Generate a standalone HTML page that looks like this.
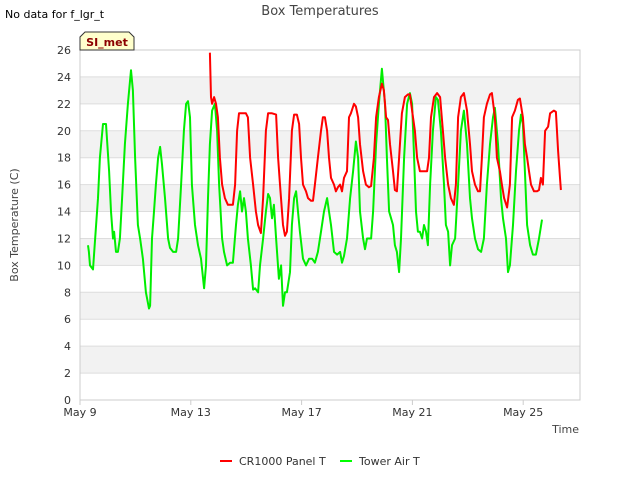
<!DOCTYPE html>
<html><head><meta charset="utf-8"><style>
body{margin:0;background:#fff;font-family:"Liberation Sans","DejaVu Sans",sans-serif;}
</style></head><body>
<svg width="640" height="480" xmlns="http://www.w3.org/2000/svg" style="font-family:'DejaVu Sans','Liberation Sans',sans-serif">
<g id="bands"></g><g id="grid"></g>
<rect x="80" y="50" width="500" height="350" fill="none" stroke="#ccc"/>
<g id="yticks"></g><g id="xticks"></g>
<g id="series"></g>
<text x="320" y="15" text-anchor="middle" font-size="13" fill="#444">Box Temperatures</text>
<text x="5" y="18" font-size="11" fill="#000">No data for f_lgr_t</text>
<g><path d="M80,50 L80,37 L85,32 L129,32 L134,37 L134,50 Z" fill="#ffffcc" stroke="#333"/>
<text x="107" y="46" text-anchor="middle" font-size="11" font-weight="bold" fill="#8b0000">SI_met</text></g>
<text x="18" y="225" transform="rotate(-90 18 225)" text-anchor="middle" font-size="11" fill="#444">Box Temperature (C)</text>
<text x="579" y="433" text-anchor="end" font-size="11" fill="#444">Time</text>
<g>
<g><line x1="220" y1="461" x2="232" y2="461" stroke="#f00" stroke-width="2"/><text x="239" y="465" font-size="11" fill="#333">CR1000 Panel T</text></g>
<g><line x1="340" y1="461" x2="352" y2="461" stroke="#0f0" stroke-width="2"/><text x="359" y="465" font-size="11" fill="#333">Tower Air T</text></g>
</g>
</svg>
<script>
const yTicks=[0,2,4,6,8,10,12,14,16,18,20,22,24,26];
const xTickDays=[0,4,8,12,16];
const xTickLabels=["May 9","May 13","May 17","May 21","May 25"];
const greenT=[0.29,0.32,0.36,0.47,0.58,0.65,0.72,0.83,0.94,1.05,1.12,1.19,1.23,1.30,1.37,1.44,1.52,1.62,1.73,1.84,1.91,1.99,2.09,2.17,2.27,2.38,2.49,2.53,2.60,2.67,2.74,2.82,2.89,2.96,3.07,3.18,3.25,3.36,3.47,3.54,3.65,3.75,3.83,3.90,3.97,4.04,4.15,4.26,4.37,4.48,4.55,4.62,4.69,4.77,4.87,4.95,5.02,5.13,5.20,5.31,5.42,5.52,5.63,5.70,5.78,5.85,5.92,5.99,6.06,6.17,6.25,6.32,6.43,6.50,6.61,6.71,6.79,6.86,6.93,7.00,7.08,7.18,7.26,7.33,7.40,7.47,7.58,7.65,7.73,7.80,7.87,7.94,8.05,8.16,8.27,8.38,8.48,8.59,8.70,8.81,8.92,8.99,9.06,9.17,9.28,9.39,9.46,9.53,9.64,9.75,9.86,9.96,10.04,10.11,10.22,10.29,10.36,10.43,10.51,10.58,10.69,10.79,10.90,11.01,11.08,11.16,11.23,11.30,11.37,11.44,11.52,11.59,11.70,11.81,11.91,11.99,12.06,12.13,12.20,12.27,12.35,12.42,12.49,12.56,12.64,12.74,12.85,12.92,13.03,13.14,13.21,13.29,13.36,13.43,13.54,13.65,13.75,13.86,13.97,14.08,14.15,14.26,14.37,14.48,14.58,14.69,14.80,14.91,14.98,15.09,15.20,15.27,15.38,15.45,15.52,15.63,15.74,15.85,15.92,15.99,16.06,16.14,16.25,16.35,16.46,16.57,16.68];
const greenV=[11.5,11,10,9.7,13,15,18,20.5,20.5,17,14,12,12.5,11,11,12,15,19,22,24.5,23,18,13,12,10.5,8,6.8,7,12,14,16,18,18.8,17.5,15,12,11.3,11,11,12,16,20,22,22.2,21,16,13,11.5,10.5,8.3,10,15,19,21.5,22,20,16,12,11,10,10.2,10.2,13,14.5,15.5,14,15,14,12,10,8.2,8.3,8,10,12,14,15.3,15,13.5,14.5,12,9,10,7,8,8,9.5,13,15,15.5,14,12.5,10.5,10,10.5,10.5,10.2,11,12.5,14,15,14,13,11,10.8,11,10.2,10.7,12,15,17,19.2,18,14,12,11.2,12,12,12,14,19,22,24.6,22,18,14,13.5,13,11.5,11,9.5,12,18,22,22.8,22,18,14,12.5,12.5,12,13,12.5,11.5,16,20,22.5,22.3,20,16,13,12.5,10,11.5,12,16,20,21.5,19,15,13.5,12,11.2,11,12,16,19,21,21.7,19,15,13.5,12,9.5,10,13,17,20,21.2,20.5,17,13,11.5,10.8,10.8,12,13.4];
const redT=[4.69,4.73,4.77,4.84,4.91,4.98,5.05,5.13,5.23,5.34,5.52,5.60,5.67,5.74,5.88,5.99,6.06,6.14,6.25,6.35,6.43,6.53,6.61,6.71,6.79,6.93,7.08,7.15,7.22,7.33,7.40,7.47,7.55,7.65,7.73,7.83,7.91,7.98,8.05,8.16,8.23,8.34,8.41,8.48,8.59,8.70,8.77,8.84,8.92,8.99,9.06,9.17,9.24,9.31,9.39,9.46,9.53,9.64,9.71,9.78,9.89,9.96,10.04,10.11,10.22,10.32,10.43,10.51,10.61,10.69,10.79,10.90,10.97,11.05,11.12,11.19,11.30,11.37,11.44,11.52,11.62,11.73,11.84,11.91,12.02,12.09,12.17,12.27,12.38,12.45,12.53,12.60,12.67,12.78,12.89,13.00,13.10,13.18,13.29,13.39,13.50,13.57,13.65,13.75,13.86,13.97,14.08,14.15,14.26,14.37,14.44,14.51,14.58,14.69,14.80,14.87,14.98,15.05,15.16,15.23,15.31,15.42,15.52,15.60,15.70,15.81,15.88,15.99,16.06,16.14,16.21,16.28,16.39,16.50,16.57,16.64,16.71,16.79,16.90,16.97,17.11,17.18,17.26,17.33,17.36];
const redV=[25.8,22.5,22,22.5,22,21,18,16,15,14.5,14.5,16,20,21.3,21.3,21.3,21,18,16,14,13,12.4,15,20,21.3,21.3,21.2,18,16,13,12.2,12.5,15,20,21.2,21.2,20.5,18,16,15.5,15,14.8,14.8,16,18,20,21,21,20,18,16.5,16,15.5,15.8,16,15.5,16.5,17,21,21.3,22,21.8,21,19,17,16,15.8,15.9,18,21,22.5,23.5,23,21,20.8,19,17,15.6,15.5,18,21.3,22.5,22.7,22.7,21,20,18,17,17,17,17,18,21,22.5,22.8,22.5,20,18,16,15,14.5,16,21,22.5,22.8,21.5,19,17,16,15.5,15.5,18,21,22,22.7,22.8,21,18,17,16,15,14.3,16,21,21.5,22.3,22.4,21,19,18,17,16,15.5,15.5,15.6,16.5,16,20,20.3,21.3,21.5,21.4,18.5,16.5,15.6];
const NS="http://www.w3.org/2000/svg";
const X0=80,PXDAY=27.7,Y0=400,PXU=350/26;
function xs(d){return X0+d*PXDAY;}
function ys(v){return Y0-v*PXU;}
function mk(tag,attrs,parent){const e=document.createElementNS(NS,tag);for(const k in attrs)e.setAttribute(k,attrs[k]);parent.appendChild(e);return e;}
const bands=document.getElementById('bands'),grid=document.getElementById('grid'),yt=document.getElementById('yticks'),xt=document.getElementById('xticks'),ser=document.getElementById('series');
for(let i=0;i<yTicks.length-1;i++){if(i%2===1){const b=mk('rect',{x:80,y:ys(yTicks[i+1]),width:500,height:ys(yTicks[i])-ys(yTicks[i+1]),fill:'#f2f2f2'},bands);

}}
yTicks.forEach(v=>{const l=mk('line',{x1:80,x2:580,y1:ys(v),y2:ys(v),stroke:'#ddd'},grid);


const t=mk('text',{x:71,y:ys(v)+4,'text-anchor':'end','font-size':11,fill:'#333'},yt);t.textContent=v;

});
xTickDays.forEach((d,i)=>{mk('line',{x1:xs(d),x2:xs(d),y1:400,y2:405,stroke:'#ccc'},xt);
const t=mk('text',{x:xs(d),y:416,'text-anchor':'middle','font-size':11,fill:'#333'},xt);t.textContent=xTickLabels[i];

});
function line(T,V,color,name){const p=mk('polyline',{points:T.map((t,i)=>xs(t).toFixed(1)+','+ys(V[i]).toFixed(1)).join(' '),fill:'none',stroke:color,'stroke-width':2,'stroke-linejoin':'round'},ser);

}
line(greenT,greenV,'#00ee00','tower-air-t-line');
line(redT,redV,'#ff0000','cr1000-panel-t-line');
</script>
</body></html>
